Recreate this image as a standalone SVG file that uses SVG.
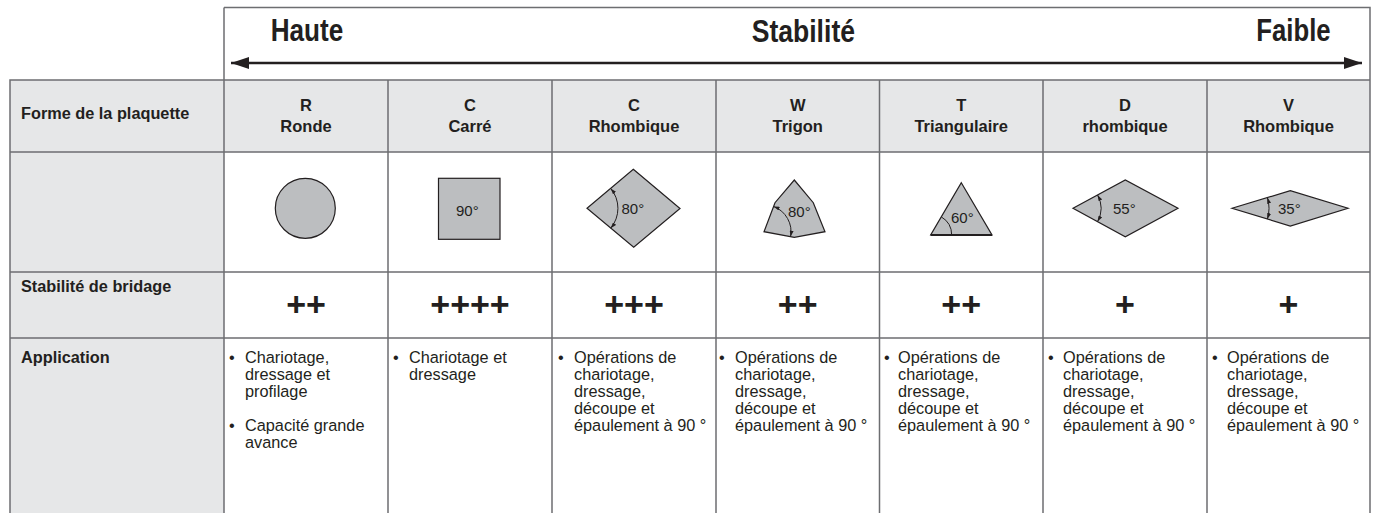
<svg xmlns="http://www.w3.org/2000/svg" width="1378" height="513" viewBox="0 0 1378 513">
<style>
text{font-family:"Liberation Sans",Arial,Helvetica,sans-serif;fill:#231f20}
.big{font-size:32px;font-weight:bold}
.hd{font-size:16.5px;font-weight:bold;text-anchor:middle}
.lbl{font-size:16.3px;font-weight:bold}
.app{font-size:16.3px}
.plus{font-size:34px;font-weight:bold;text-anchor:middle}
.ang{font-size:15px}
.grid{stroke:#6d6e71;stroke-width:1.5;fill:none}
.shape{fill:#bcbec0;stroke:#231f20;stroke-width:1.2;stroke-linejoin:miter}
.arc{fill:none;stroke:#231f20;stroke-width:1}
.arca{fill:none;stroke:#231f20;stroke-width:1;marker-start:url(#ah);marker-end:url(#ah)}
</style>
<defs>
<marker id="ah" viewBox="0 0 6 4" refX="6" refY="2" markerWidth="6" markerHeight="4" orient="auto-start-reverse" markerUnits="userSpaceOnUse"><path d="M0,0 L6,2 L0,4z" fill="#231f20"/></marker>
<marker id="bigL" viewBox="0 0 18 12" refX="0" refY="6" markerWidth="18" markerHeight="12" orient="auto" markerUnits="userSpaceOnUse"><path d="M0,6 L18,0 L18,12z" fill="#231f20"/></marker>
<marker id="bigR" viewBox="0 0 18 12" refX="18" refY="6" markerWidth="18" markerHeight="12" orient="auto" markerUnits="userSpaceOnUse"><path d="M18,6 L0,0 L0,12z" fill="#231f20"/></marker>
</defs>
<rect width="1378" height="513" fill="#ffffff"/>
<g id="backgrounds">
<rect x="10" y="80" width="214" height="440" fill="#e6e7e8"/>
<rect x="224" y="80" width="1146" height="72" fill="#e6e7e8"/>
</g>
<g id="grid" class="grid">
<path d="M224,7.5 H1370 V520 M224,7.5 V520 M10,520 V80 H1370 M10,152 H1370 M10,272 H1370 M10,338 H1370 M388,80 V520 M552,80 V520 M716,80 V520 M879.5,80 V520 M1043,80 V520 M1207,80 V520"/>
</g>
<g id="stability-scale">
<text class="big" x="270.7" y="41.3" textLength="72.6" lengthAdjust="spacingAndGlyphs">Haute</text>
<text class="big" x="751.7" y="41.5" textLength="103.3" lengthAdjust="spacingAndGlyphs">Stabilité</text>
<text class="big" x="1256.3" y="41.3" textLength="74.3" lengthAdjust="spacingAndGlyphs">Faible</text>
</g>
<g id="connectors">
<line x1="231" y1="63" x2="1362" y2="63" stroke="#231f20" stroke-width="2.4" marker-start="url(#bigL)" marker-end="url(#bigR)"/>
</g>
<g id="row-labels">
<text class="lbl" x="21" y="119">Forme de la plaquette</text>
<text class="lbl" x="21" y="292">Stabilité de bridage</text>
<text class="lbl" x="21" y="363">Application</text>
</g>
<g id="col-R">
<text class="hd" x="306" y="110.5">R</text>
<text class="hd" x="306" y="131.5">Ronde</text>
<circle class="shape" cx="305.3" cy="208.3" r="30"/>
<text class="plus" x="306" y="316">++</text>
<text class="app" x="229" y="363">•</text>
<text class="app" x="245" y="363">Chariotage,</text>
<text class="app" x="245" y="380">dressage et</text>
<text class="app" x="245" y="397">profilage</text>
<text class="app" x="229" y="431">•</text>
<text class="app" x="245" y="431">Capacité grande</text>
<text class="app" x="245" y="448">avance</text>
</g>
<g id="col-C-carre">
<text class="hd" x="470" y="110.5">C</text>
<text class="hd" x="470" y="131.5">Carré</text>
<rect class="shape" x="438.5" y="178.3" width="61.5" height="61"/>
<text class="ang" x="456" y="216">90°</text>
<text class="plus" x="470" y="316">++++</text>
<text class="app" x="393" y="363">•</text>
<text class="app" x="409" y="363">Chariotage et</text>
<text class="app" x="409" y="380">dressage</text>
</g>
<g id="col-C-rhombique">
<text class="hd" x="634" y="110.5">C</text>
<text class="hd" x="634" y="131.5">Rhombique</text>
<polygon class="shape" points="633.3,169.3 680,208.5 633.7,247.3 587,208.3"/>
<path class="arca" d="M610.7,188.4 A31,31 0 0 1 610.7,228.2"/>
<text class="ang" x="621.5" y="214">80°</text>
<text class="plus" x="634" y="316">+++</text>
<text class="app" x="558" y="363">•</text>
<text class="app" x="574" y="363">Opérations de</text>
<text class="app" x="574" y="380">chariotage,</text>
<text class="app" x="574" y="397">dressage,</text>
<text class="app" x="574" y="414">découpe et</text>
<text class="app" x="574" y="431">épaulement à 90 °</text>
</g>
<g id="col-W">
<text class="hd" x="797.7" y="110.5">W</text>
<text class="hd" x="797.7" y="131.5">Trigon</text>
<polygon class="shape" points="794.3,180 813.3,202.7 825,231.7 794.3,237.3 764,231.7 775,202.7"/>
<path class="arca" d="M773.6,206.5 A27,27 0 0 1 790.6,236.6"/>
<text class="ang" x="788" y="217">80°</text>
<text class="plus" x="797.7" y="316">++</text>
<text class="app" x="719" y="363">•</text>
<text class="app" x="735" y="363">Opérations de</text>
<text class="app" x="735" y="380">chariotage,</text>
<text class="app" x="735" y="397">dressage,</text>
<text class="app" x="735" y="414">découpe et</text>
<text class="app" x="735" y="431">épaulement à 90 °</text>
</g>
<g id="col-T">
<text class="hd" x="961.2" y="110.5">T</text>
<text class="hd" x="961.2" y="131.5">Triangulaire</text>
<polygon class="shape" points="961.3,182.7 992,235 930.7,235"/>
<line x1="930.7" y1="235" x2="992" y2="235" stroke="#231f20" stroke-width="2"/>
<path class="arc" d="M941.3,216.9 A21,21 0 0 1 951.7,235"/>
<text class="ang" x="951" y="223">60°</text>
<text class="plus" x="961.2" y="316">++</text>
<text class="app" x="884" y="363">•</text>
<text class="app" x="898" y="363">Opérations de</text>
<text class="app" x="898" y="380">chariotage,</text>
<text class="app" x="898" y="397">dressage,</text>
<text class="app" x="898" y="414">découpe et</text>
<text class="app" x="898" y="431">épaulement à 90 °</text>
</g>
<g id="col-D">
<text class="hd" x="1125" y="110.5">D</text>
<text class="hd" x="1125" y="131.5">rhombique</text>
<polygon class="shape" points="1073,208.3 1125.3,180 1178,208.3 1125.3,236.7"/>
<path class="arca" d="M1097.6,195 A28,28 0 0 1 1097.6,221.6"/>
<text class="ang" x="1113" y="214">55°</text>
<text class="plus" x="1125" y="316">+</text>
<text class="app" x="1048" y="363">•</text>
<text class="app" x="1063" y="363">Opérations de</text>
<text class="app" x="1063" y="380">chariotage,</text>
<text class="app" x="1063" y="397">dressage,</text>
<text class="app" x="1063" y="414">découpe et</text>
<text class="app" x="1063" y="431">épaulement à 90 °</text>
</g>
<g id="col-V">
<text class="hd" x="1288.5" y="110.5">V</text>
<text class="hd" x="1288.5" y="131.5">Rhombique</text>
<polygon class="shape" points="1232,208.3 1290.3,190.7 1348,208.3 1290.3,226"/>
<path class="arca" d="M1267.4,197.6 A37,37 0 0 1 1267.4,219"/>
<text class="ang" x="1278" y="214">35°</text>
<text class="plus" x="1288.5" y="316">+</text>
<text class="app" x="1212" y="363">•</text>
<text class="app" x="1227" y="363">Opérations de</text>
<text class="app" x="1227" y="380">chariotage,</text>
<text class="app" x="1227" y="397">dressage,</text>
<text class="app" x="1227" y="414">découpe et</text>
<text class="app" x="1227" y="431">épaulement à 90 °</text>
</g>
</svg>
